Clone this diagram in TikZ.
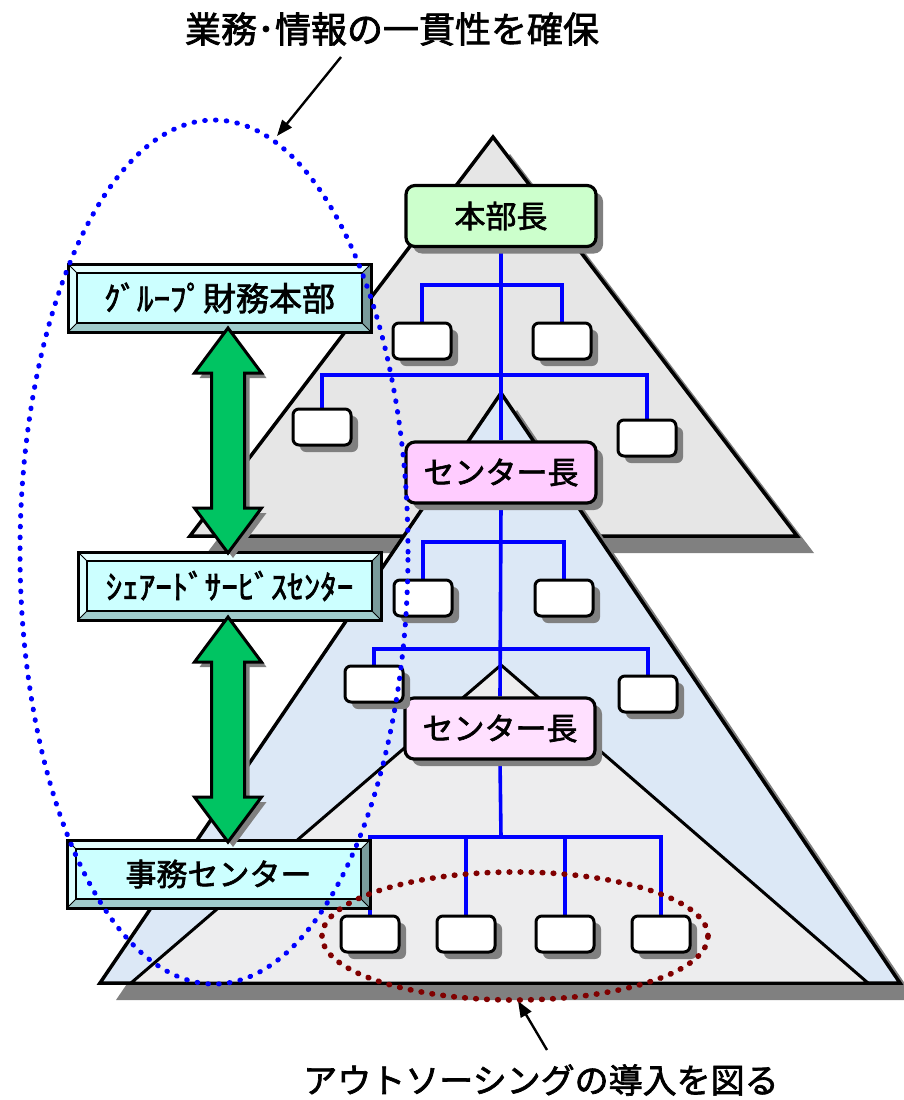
\documentclass[tikz,border=0pt]{standalone}
\usepackage{fontspec}
\setmainfont{Noto Sans CJK JP}[FakeBold=2]
\usetikzlibrary{shadows,arrows.meta}
\pgfdeclarelayer{tri}
\pgfdeclarelayer{lines}
\pgfdeclarelayer{topl}
\pgfsetlayers{tri,lines,main,topl}

\definecolor{greyfill}{HTML}{E6E6E6}
\definecolor{bluefill}{HTML}{DCE8F6}
\definecolor{marblefill}{HTML}{EDEDEE}
\definecolor{shadowgrey}{HTML}{808080}
\definecolor{hqgreen}{HTML}{CCFFCC}
\definecolor{pinkA}{HTML}{FFCCFF}
\definecolor{pinkB}{HTML}{FFE0FF}
\definecolor{cyanface}{HTML}{CCFFFF}
\definecolor{bevtop}{HTML}{E5FFFF}
\definecolor{bevleft}{HTML}{DDFFFF}
\definecolor{bevright}{HTML}{7A9C9C}
\definecolor{bevbottom}{HTML}{A0CCCC}
\definecolor{arrowgreen}{HTML}{00C462}
\definecolor{orgblue}{HTML}{0000FF}
\definecolor{dotred}{HTML}{800000}

\newcommand\mybevbox[7]{%
  \fill[bevtop] (#2,#3) -- (#4,#3) -- ({#4-9},{#3+9}) -- ({#2+9},{#3+9}) -- cycle;
  \fill[bevleft] (#2,#3) -- ({#2+9},{#3+9}) -- ({#2+9},{#5-9}) -- (#2,#5) -- cycle;
  \fill[bevright] (#4,#3) -- (#4,#5) -- ({#4-9},{#5-9}) -- ({#4-9},{#3+9}) -- cycle;
  \fill[bevbottom] (#2,#5) -- (#4,#5) -- ({#4-9},{#5-9}) -- ({#2+9},{#5-9}) -- cycle;
  \fill[cyanface] ({#2+9},{#3+9}) rectangle ({#4-9},{#5-9});
  \draw[line width=1pt] (#2,#3) -- ({#2+9},{#3+9}) (#4,#3) -- ({#4-9},{#3+9})
     (#2,#5) -- ({#2+9},{#5-9}) (#4,#5) -- ({#4-9},{#5-9});
  \draw[line width=3pt] (#2,#3) rectangle (#4,#5);
  \draw[line width=2.6pt] ({#2+9},{#3+9}) rectangle ({#4-9},{#5-9});
  \node[bevtext,font=\fontsize{#7}{#7}\selectfont] (#1) at ({(#2+#4)/2},{(#3+#5)/2}) {#6};
}
\newcommand\myarrowpath[3]{(#1,#2) -- ({#1+33.5},{#2+45}) -- ({#1+16.5},{#2+45}) -- ({#1+16.5},{#3-45}) -- ({#1+33.5},{#3-45}) -- (#1,#3) -- ({#1-33.5},{#3-45}) -- ({#1-16.5},{#3-45}) -- ({#1-16.5},{#2+45}) -- ({#1-33.5},{#2+45}) -- cycle}
\newcommand\mygreenarrow[3]{%
  \begin{scope}[shift={(5,5)}]
    \fill[shadowgrey] \myarrowpath{#1}{#2}{#3};
  \end{scope}
  \filldraw[fill=arrowgreen, draw=black, line width=3pt, line join=miter] \myarrowpath{#1}{#2}{#3};
}

\begin{document}
\begin{tikzpicture}[x=1pt,y=-1pt,
  tri/.style={draw=black, line width=3.5pt, line join=miter},
  trishadow/.style={fill=shadowgrey},
  orgbox/.style={draw=black, line width=3pt, fill=white, rounded corners=6pt,
     minimum width=58pt, minimum height=36pt, inner sep=0pt,
     drop shadow={shadow xshift=7pt, shadow yshift=-7pt, fill=shadowgrey, opacity=1}},
  headbox/.style={draw=black, line width=3.2pt, rounded corners=9pt,
     minimum width=190pt, minimum height=61pt, inner sep=0pt,
     font=\fontsize{31}{31}\selectfont,
     drop shadow={shadow xshift=7pt, shadow yshift=-7pt, fill=shadowgrey, opacity=1}},
  bevtext/.style={inner sep=0pt},
  orgline/.style={draw=orgblue, line width=3.6pt},
  bluedots/.style={draw=orgblue, line width=5pt, line cap=round, dash pattern=on 0.6pt off 10.2pt},
  reddots/.style={draw=dotred, line width=5.6pt, line cap=round, dash pattern=on 0.6pt off 10.4pt},
  callout/.style={draw=black, line width=2.4pt, -{Triangle[length=16pt,width=12pt]}},
  bigtext/.style={inner sep=0pt}
]
\useasboundingbox (0,0) rectangle (903,1100);
\clip (0,0) rectangle (903,1100);

% ---------- triangles ----------
\begin{pgfonlayer}{tri}
  \begin{scope}[shift={(17,17)}]
    \fill[trishadow] (493,137) -- (797,536) -- (190,536) -- cycle;
  \end{scope}
  \filldraw[tri, fill=greyfill] (493,137) -- (797,536) -- (190,536) -- cycle;
  \begin{scope}[shift={(16,17)}]
    \fill[trishadow] (501,393) -- (900,983) -- (100,983) -- cycle;
  \end{scope}
  \filldraw[tri, fill=bluefill] (501,393) -- (900,983) -- (100,983) -- cycle;
  \filldraw[tri, line width=3pt, fill=marblefill] (501,665) -- (868,983) -- (131,983) -- cycle;
\end{pgfonlayer}

% ---------- org chart nodes ----------
\node[headbox, fill=hqgreen] (hq) at (501,216) {本部長};
\node[headbox, fill=pinkA] (cA) at (501,472.5) {センター長};
\node[headbox, fill=pinkB] (cB) at (500,728.5) {センター長};

\node[orgbox] (a1) at (422,341) {};
\node[orgbox] (a2) at (562,341) {};
\node[orgbox] (b1) at (322,427) {};
\node[orgbox] (b2) at (647,438) {};
\node[orgbox] (c1) at (423,598) {};
\node[orgbox] (c2) at (564,598) {};
\node[orgbox] (d1) at (374,684) {};
\node[orgbox] (d2) at (648,694) {};
\node[orgbox] (e1) at (370,934) {};
\node[orgbox] (e2) at (466,934) {};
\node[orgbox] (e3) at (565,934) {};
\node[orgbox] (e4) at (661,934) {};

\coordinate (barA) at (501,285);
\coordinate (barB) at (501,375);
\coordinate (barC) at (501,542);
\coordinate (barD) at (501,649);
\coordinate (barE) at (501,837);

\begin{pgfonlayer}{lines}
  \draw[orgline] (hq.south) -- (cA.north);
  \draw[orgline] (cA.south) -- (cB.north);
  \draw[orgline] (cB.south) -- (barE);
  \draw[orgline] (a1.north) |- (barA) -| (a2.north);
  \draw[orgline] (b1.north) |- (barB) -| (b2.north);
  \draw[orgline] (c1.north) |- (barC) -| (c2.north);
  \draw[orgline] (d1.north) |- (barD) -| (d2.north);
  \draw[orgline] (e1.north) |- (barE) -| (e4.north);
  \draw[orgline] (e2.north) -- (e2.north |- barE);
  \draw[orgline] (e3.north) -- (e3.north |- barE);
\end{pgfonlayer}

% ---------- left bevelled boxes ----------
\mybevbox{gf}{68}{264}{371}{332}{ｸﾞﾙｰﾌﾟ財務本部}{33}
\mybevbox{ssc}{78}{552}{381}{620}{ｼｪｱｰﾄﾞｻｰﾋﾞｽｾﾝﾀｰ}{33}
\mybevbox{jc}{67}{840}{370}{908}{事務センター}{31}

% ---------- green double arrows ----------
\mygreenarrow{228}{328}{553}
\mygreenarrow{228}{617}{842}

% ---------- dotted ellipses ----------
\begin{pgfonlayer}{topl}
  \draw[bluedots] (214,552) ellipse [x radius=194pt, y radius=432pt];
  \draw[reddots] (515,936) ellipse [x radius=193pt, y radius=64pt];
\end{pgfonlayer}

% ---------- callouts ----------
\node[bigtext, font=\fontsize{36}{36}\selectfont] (title) at (392,29) {業務･情報の一貫性を確保};
\coordinate (t1) at (341,57);
\coordinate (t2) at (277,136);
\draw[callout] (t1) -- (t2);

\node[bigtext, font=\fontsize{34}{34}\selectfont] (bottom) at (541,1080) {アウトソーシングの導入を図る};
\coordinate (u1) at (547,1050);
\coordinate (u2) at (518,1001);
\draw[callout] (u1) -- (u2);
\end{tikzpicture}
\end{document}
